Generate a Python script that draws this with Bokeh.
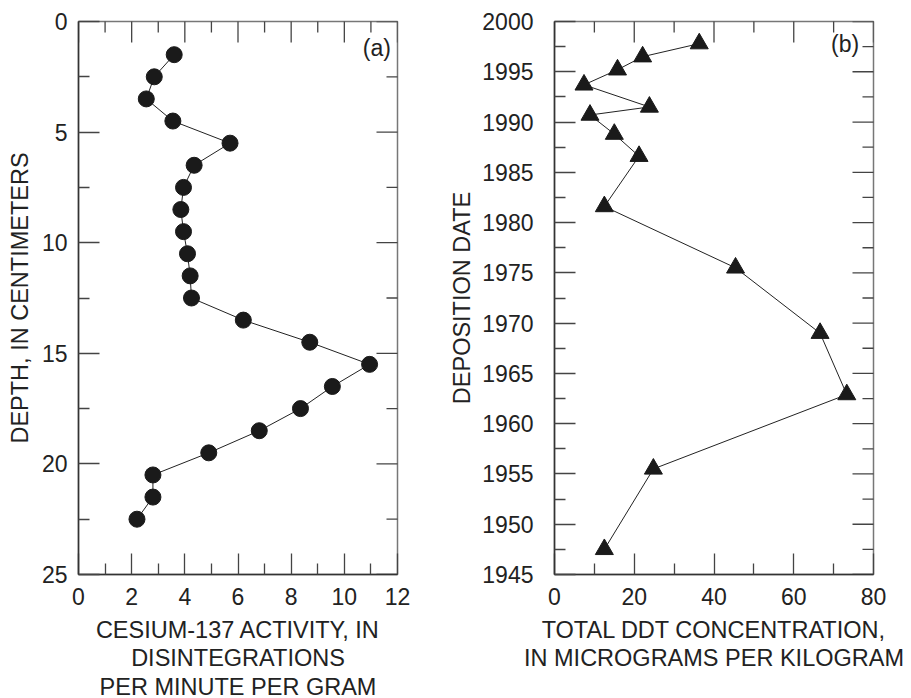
import math
from bokeh.plotting import figure
from bokeh.models import Range1d, FixedTicker, Label
from bokeh.layouts import row
from bokeh.embed import file_html
from bokeh.resources import INLINE

# ---- data: panel (a) ----
depth_cm = [1.5, 2.5, 3.5, 4.5, 5.5, 6.5, 7.5, 8.5, 9.5, 10.5, 11.5,
            12.5, 13.5, 14.5, 15.5, 16.5, 17.5, 18.5, 19.5, 20.5, 21.5, 22.5]
cs137_activity = [3.6, 2.85, 2.55, 3.55, 5.7, 4.35, 3.95, 3.85, 3.95, 4.1, 4.2,
                  4.25, 6.2, 8.7, 10.95, 9.55, 8.35, 6.8, 4.9, 2.8, 2.8, 2.2]

# ---- data: panel (b) ----
deposition_year = [1997.8, 1996.5, 1995.2, 1993.7, 1991.5, 1990.7, 1988.8,
                   1986.6, 1981.6, 1975.5, 1969.0, 1962.9, 1955.5, 1947.5]
ddt_concentration = [36.3, 22.1, 15.8, 7.4, 23.8, 8.9, 15.0,
                     21.2, 12.5, 45.4, 66.6, 73.3, 24.8, 12.5]

# ---- ticks ----
a_x_major = [0, 2, 4, 6, 8, 10, 12]
a_x_minor = [1, 3, 5, 7, 9, 11]
a_y_major = [0, 5, 10, 15, 20, 25]
a_y_minor = [2.5, 7.5, 12.5, 17.5, 22.5]
b_x_major = [0, 20, 40, 60, 80]
b_x_minor = [10, 30, 50, 70]
b_y_major = [1945, 1950, 1955, 1960, 1965, 1970, 1975, 1980, 1985, 1990, 1995, 2000]
b_y_minor = [1947.5, 1952.5, 1957.5, 1962.5, 1967.5, 1972.5, 1977.5,
             1982.5, 1987.5, 1992.5, 1997.5]

FONT = "Liberation Sans"
TXT = "#222222"
TICK_FS = "23px"
LAB_FS = "23.5px"
TICK_COL = "#444444"


def style_axis(ax):
    ax.axis_line_color = "#333333"
    ax.axis_line_width = 1.5
    ax.major_tick_in = 21
    ax.major_tick_out = 0
    ax.minor_tick_in = 11
    ax.minor_tick_out = 0
    ax.major_tick_line_color = TICK_COL
    ax.minor_tick_line_color = TICK_COL
    ax.major_tick_line_width = 1.3
    ax.minor_tick_line_width = 1.3
    ax.major_label_text_font = FONT
    ax.major_label_text_color = TXT
    ax.major_label_text_font_size = TICK_FS
    ax.axis_label_text_font = FONT
    ax.axis_label_text_font_size = LAB_FS
    ax.axis_label_text_font_style = "normal"
    ax.axis_label_text_color = TXT


def make_panel(x_rng, y_rng, xmaj, xmin, ymaj, ymin, xlabel, ylabel,
               mb_left, mb_right, ylab_standoff, ytick_standoff):
    p = figure(frame_width=319, frame_height=553,
               x_range=x_rng, y_range=y_rng,
               output_backend="svg", toolbar_location=None,
               min_border_left=mb_left, min_border_right=mb_right,
               min_border_top=21, min_border_bottom=124,
               background_fill_color="white", border_fill_color="white")
    p.outline_line_color = "#777777"
    p.outline_line_width = 1.5
    p.xgrid.visible = False
    p.ygrid.visible = False
    p.xaxis.ticker = FixedTicker(ticks=xmaj, minor_ticks=xmin)
    p.yaxis.ticker = FixedTicker(ticks=ymaj, minor_ticks=ymin)
    style_axis(p.xaxis[0])
    style_axis(p.yaxis[0])
    p.xaxis.axis_label = xlabel
    p.yaxis.axis_label = ylabel
    p.xaxis.major_label_standoff = 13
    p.yaxis.major_label_standoff = ytick_standoff
    p.xaxis.axis_label_standoff = 9
    p.yaxis.axis_label_standoff = ylab_standoff
    p.xaxis.axis_label_text_line_height = 1.1
    # tick marks on the top and right edges (half of each dash is clipped by the frame)
    top = y_rng.end
    rgt = x_rng.end
    p.scatter(xmaj, [top] * len(xmaj), marker="dash", size=42, angle=math.pi / 2,
              line_color=TICK_COL, line_width=1.3)
    p.scatter(xmin, [top] * len(xmin), marker="dash", size=22, angle=math.pi / 2,
              line_color=TICK_COL, line_width=1.3)
    p.scatter([rgt] * len(ymaj), ymaj, marker="dash", size=42,
              line_color=TICK_COL, line_width=1.3)
    p.scatter([rgt] * len(ymin), ymin, marker="dash", size=22,
              line_color=TICK_COL, line_width=1.3)
    return p


pa = make_panel(Range1d(0, 12), Range1d(25, 0),
                a_x_major, a_x_minor, a_y_major, a_y_minor,
                "CESIUM-137 ACTIVITY, IN\nDISINTEGRATIONS\nPER MINUTE PER GRAM",
                "DEPTH, IN CENTIMETERS", 78, 20, 6, 11)
pa.line(cs137_activity, depth_cm, line_color="#222222", line_width=1)
pa.scatter(cs137_activity, depth_cm, marker="circle", size=16,
           fill_color="#1a1a1a", line_color="#1a1a1a")
pa.add_layout(Label(x=11.75, y=1.2, text="(a)", text_align="right",
                    text_baseline="middle", text_font=FONT,
                    text_font_size=TICK_FS, text_color=TXT))

pb = make_panel(Range1d(0, 80), Range1d(1945, 2000),
                b_x_major, b_x_minor, b_y_major, b_y_minor,
                "TOTAL DDT CONCENTRATION,\nIN MICROGRAMS PER KILOGRAM",
                "DEPOSITION DATE", 137, 36, 4, 21)
pb.line(ddt_concentration, deposition_year, line_color="#222222", line_width=1)
pb.scatter(ddt_concentration, deposition_year, marker="triangle", size=18,
           fill_color="#1a1a1a", line_color="#1a1a1a")
pb.add_layout(Label(x=76.4, y=1997.8, text="(b)", text_align="right",
                    text_baseline="middle", text_font=FONT,
                    text_font_size=TICK_FS, text_color=TXT))

layout = row(pa, pb)
open("out.html", "w").write(file_html(layout, INLINE))
